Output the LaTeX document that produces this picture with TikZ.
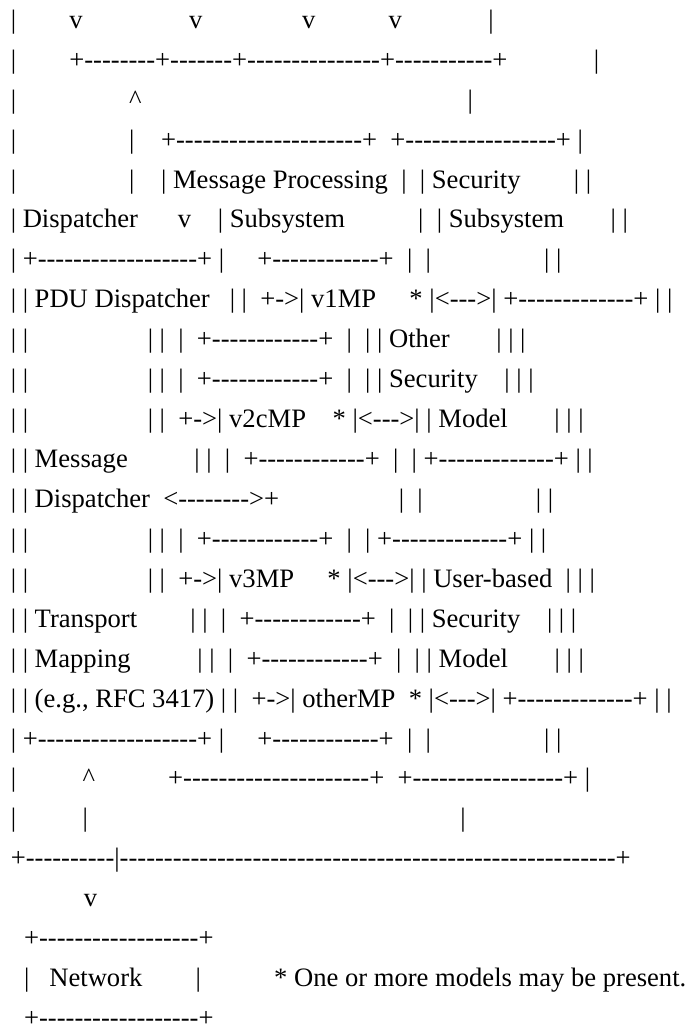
\documentclass[tikz,border=0pt]{standalone}
\usepackage{fontspec}
\setmainfont{Liberation Serif}[Ligatures=TeXOff]
\newcount\dshcnt
\newcommand\dsh[1]{\dshcnt=#1\relax\loop\ifnum\dshcnt>0 -\advance\dshcnt by -1\relax\repeat}
\newcommand\spc[1]{\hspace*{#1\fontdimen2\font}}
\newcommand\crt{\textasciicircum}
\frenchspacing
\tikzset{ln/.style={anchor=base west, inner sep=0pt, outer sep=0pt, text=black,
  font=\fontsize{26.6pt}{39.93pt}\selectfont}}
\begin{document}
\begin{tikzpicture}[x=1pt,y=1pt]
\fill[white] (0,0) rectangle (690,-1028);
\useasboundingbox (0,0) rectangle (690,-1028);
\node[ln] (l1) at (10.8,-28.30) {|\spc{8}v\spc{16}v\spc{15}v\spc{11}v\spc{13}|};
\node[ln] (l2) at (10.8,-68.23) {|\spc{8}+\dsh{8}+\dsh{7}+\dsh{15}+\dsh{11}+\spc{13}|};
\node[ln] (l3) at (10.8,-108.16) {|\spc{17}\crt\spc{49}|};
\node[ln] (l4) at (10.8,-148.09) {|\spc{17}|\spc{4}+\dsh{21}+\spc{2}+\dsh{17}+\spc{1}|};
\node[ln] (l5) at (10.8,-188.02) {|\spc{17}|\spc{4}|\spc{1}Message\spc{1}Processing\spc{2}|\spc{2}|\spc{1}Security\spc{8}|\spc{1}|};
\node[ln] (l6) at (10.8,-227.95) {|\spc{1}Dispatcher\spc{6}v\spc{4}|\spc{1}Subsystem\spc{11}|\spc{2}|\spc{1}Subsystem\spc{7}|\spc{1}|};
\node[ln] (l7) at (10.8,-267.88) {|\spc{1}+\dsh{18}+\spc{1}|\spc{5}+\dsh{12}+\spc{2}|\spc{2}|\spc{17}|\spc{1}|};
\node[ln] (l8) at (10.8,-307.81) {|\spc{1}|\spc{1}PDU\spc{1}Dispatcher\spc{3}|\spc{1}|\spc{2}+-{}>|\spc{1}v1MP\spc{5}*\spc{1}|<\dsh{3}>|\spc{1}+\dsh{13}+\spc{1}|\spc{1}|};
\node[ln] (l9) at (10.8,-347.74) {|\spc{1}|\spc{18}|\spc{1}|\spc{2}|\spc{2}+\dsh{12}+\spc{2}|\spc{2}|\spc{1}|\spc{1}Other\spc{7}|\spc{1}|\spc{1}|};
\node[ln] (l10) at (10.8,-387.67) {|\spc{1}|\spc{18}|\spc{1}|\spc{2}|\spc{2}+\dsh{12}+\spc{2}|\spc{2}|\spc{1}|\spc{1}Security\spc{4}|\spc{1}|\spc{1}|};
\node[ln] (l11) at (10.8,-427.60) {|\spc{1}|\spc{18}|\spc{1}|\spc{2}+-{}>|\spc{1}v2cMP\spc{4}*\spc{1}|<\dsh{3}>|\spc{1}|\spc{1}Model\spc{7}|\spc{1}|\spc{1}|};
\node[ln] (l12) at (10.8,-467.53) {|\spc{1}|\spc{1}Message\spc{10}|\spc{1}|\spc{2}|\spc{2}+\dsh{12}+\spc{2}|\spc{2}|\spc{1}+\dsh{13}+\spc{1}|\spc{1}|};
\node[ln] (l13) at (10.8,-507.46) {|\spc{1}|\spc{1}Dispatcher\spc{2}<\dsh{8}>+\spc{18}|\spc{2}|\spc{17}|\spc{1}|};
\node[ln] (l14) at (10.8,-547.39) {|\spc{1}|\spc{18}|\spc{1}|\spc{2}|\spc{2}+\dsh{12}+\spc{2}|\spc{2}|\spc{1}+\dsh{13}+\spc{1}|\spc{1}|};
\node[ln] (l15) at (10.8,-587.32) {|\spc{1}|\spc{18}|\spc{1}|\spc{2}+-{}>|\spc{1}v3MP\spc{5}*\spc{1}|<\dsh{3}>|\spc{1}|\spc{1}User-based\spc{2}|\spc{1}|\spc{1}|};
\node[ln] (l16) at (10.8,-627.25) {|\spc{1}|\spc{1}Transport\spc{8}|\spc{1}|\spc{2}|\spc{2}+\dsh{12}+\spc{2}|\spc{2}|\spc{1}|\spc{1}Security\spc{4}|\spc{1}|\spc{1}|};
\node[ln] (l17) at (10.8,-667.18) {|\spc{1}|\spc{1}Mapping\spc{10}|\spc{1}|\spc{2}|\spc{2}+\dsh{12}+\spc{2}|\spc{2}|\spc{1}|\spc{1}Model\spc{7}|\spc{1}|\spc{1}|};
\node[ln] (l18) at (10.8,-707.11) {|\spc{1}|\spc{1}(e.g.,\spc{1}RFC\spc{1}3417)\spc{1}|\spc{1}|\spc{2}+-{}>|\spc{1}otherMP\spc{2}*\spc{1}|<\dsh{3}>|\spc{1}+\dsh{13}+\spc{1}|\spc{1}|};
\node[ln] (l19) at (10.8,-747.04) {|\spc{1}+\dsh{18}+\spc{1}|\spc{5}+\dsh{12}+\spc{2}|\spc{2}|\spc{17}|\spc{1}|};
\node[ln] (l20) at (10.8,-786.97) {|\spc{10}\crt\spc{11}+\dsh{21}+\spc{2}+\dsh{17}+\spc{1}|};
\node[ln] (l21) at (10.8,-826.90) {|\spc{10}|\spc{56}|};
\node[ln] (l22) at (10.8,-866.83) {+\dsh{10}|\dsh{56}+};
\node[ln] (l23) at (10.8,-906.76) {\spc{11}v};
\node[ln] (l24) at (10.8,-946.69) {\spc{2}+\dsh{18}+};
\node[ln] (l25) at (10.8,-986.62) {\spc{2}|\spc{3}Network\spc{8}|\spc{11}*\spc{1}One\spc{1}or\spc{1}more\spc{1}models\spc{1}may\spc{1}be\spc{1}present.};
\node[ln, text depth=0pt] (l26) at (10.8,-1026.55) {\spc{2}+\dsh{18}+};
\end{tikzpicture}
\end{document}
